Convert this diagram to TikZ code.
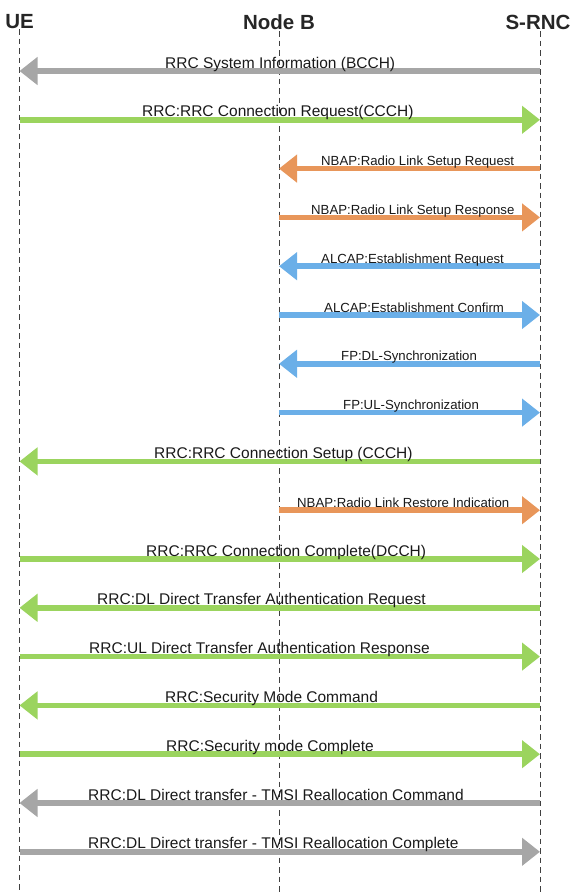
\documentclass[tikz,border=0pt]{standalone}
\usepackage{fontspec}
\setmainfont{Liberation Sans}
\usetikzlibrary{arrows.meta}
\definecolor{cgray}{HTML}{A6A6A6}
\definecolor{cgreen}{HTML}{9BD45E}
\definecolor{corange}{HTML}{E8965A}
\definecolor{cblue}{HTML}{6BAFE8}
\begin{document}
\begin{tikzpicture}[x=1pt,y=-1pt,
 msg/.style={line width=5.5pt,-{Triangle[length=18pt,width=27pt]}},
 lbl/.style={font=\fontsize{15.5}{16}\selectfont, anchor=base west, inner sep=0pt, text=black!90},
 slbl/.style={font=\fontsize{13.2}{14}\selectfont, anchor=base west, inner sep=0pt, text=black!90},
 hdr/.style={font=\fontsize{20.5}{22}\selectfont\bfseries, inner sep=0pt, text=black!85},
 life/.style={draw=black!75, line width=1pt, dash pattern=on 5.5pt off 4pt}]
\useasboundingbox (0,0) rectangle (573,892);
% lifelines
\coordinate (ue) at (19.5,29);  \coordinate (ueb) at (19.5,892);
\coordinate (nb) at (279,31);   \coordinate (nbb) at (279,892);
\coordinate (srnc) at (540,31); \coordinate (srncb) at (540,892);
\draw[life] (ue) -- (ueb);
\draw[life] (nb) -- (nbb);
\draw[life] (srnc) -- (srncb);
\node[hdr] (hue) at (19.5,22) {UE};
\node[hdr] (hnb) at (279,22) {Node B};
\node[hdr] (hsrnc) at (538,22) {S-RNC};
% message rows
\coordinate (m1) at (0,71);
\coordinate (m2) at (0,119.8);
\coordinate (m3) at (0,168.6);
\coordinate (m4) at (0,217.4);
\coordinate (m5) at (0,266.2);
\coordinate (m6) at (0,315);
\coordinate (m7) at (0,363.8);
\coordinate (m8) at (0,412.6);
\coordinate (m9) at (0,461.4);
\coordinate (m10) at (0,510.2);
\coordinate (m11) at (0,559);
\coordinate (m12) at (0,607.8);
\coordinate (m13) at (0,656.6);
\coordinate (m14) at (0,705.4);
\coordinate (m15) at (0,754.2);
\coordinate (m16) at (0,803);
\coordinate (m17) at (0,851.8);
% arrows
\draw[msg,cgray]   (srnc |- m1) -- (ue |- m1);
\draw[msg,cgreen]  (ue |- m2) -- (srnc |- m2);
\draw[msg,corange] (srnc |- m3) -- (nb |- m3);
\draw[msg,corange] (nb |- m4) -- (srnc |- m4);
\draw[msg,cblue]   (srnc |- m5) -- (nb |- m5);
\draw[msg,cblue]   (nb |- m6) -- (srnc |- m6);
\draw[msg,cblue]   (srnc |- m7) -- (nb |- m7);
\draw[msg,cblue]   (nb |- m8) -- (srnc |- m8);
\draw[msg,cgreen]  (srnc |- m9) -- (ue |- m9);
\draw[msg,corange] (nb |- m10) -- (srnc |- m10);
\draw[msg,cgreen]  (ue |- m11) -- (srnc |- m11);
\draw[msg,cgreen]  (srnc |- m12) -- (ue |- m12);
\draw[msg,cgreen]  (ue |- m13) -- (srnc |- m13);
\draw[msg,cgreen]  (srnc |- m14) -- (ue |- m14);
\draw[msg,cgreen]  (ue |- m15) -- (srnc |- m15);
\draw[msg,cgray]   (srnc |- m16) -- (ue |- m16);
\draw[msg,cgray]   (ue |- m17) -- (srnc |- m17);
% labels
\node[lbl]  (l1)  at (165,68)    {RRC System Information (BCCH)};
\node[lbl]  (l2)  at (142,116.8) {RRC:RRC Connection Request(CCCH)};
\node[slbl] (l3)  at (321,165.6) {NBAP:Radio Link Setup Request};
\node[slbl] (l4)  at (311,214.4) {NBAP:Radio Link Setup Response};
\node[slbl] (l5)  at (321,263.2) {ALCAP:Establishment Request};
\node[slbl] (l6)  at (324,312)   {ALCAP:Establishment Confirm};
\node[slbl] (l7)  at (341,360.8) {FP:DL-Synchronization};
\node[slbl] (l8)  at (343,409.6) {FP:UL-Synchronization};
\node[lbl]  (l9)  at (154,458.4) {RRC:RRC Connection Setup (CCCH)};
\node[slbl] (l10) at (297,507.2) {NBAP:Radio Link Restore Indication};
\node[lbl]  (l11) at (146,556)   {RRC:RRC Connection Complete(DCCH)};
\node[lbl]  (l12) at (97,604.8)  {RRC:DL Direct Transfer Authentication Request};
\node[lbl]  (l13) at (89,653.6)  {RRC:UL Direct Transfer Authentication Response};
\node[lbl]  (l14) at (165,702.4) {RRC:Security Mode Command};
\node[lbl]  (l15) at (166,751.2) {RRC:Security mode Complete};
\node[lbl]  (l16) at (88,800)    {RRC:DL Direct transfer - TMSI Reallocation Command};
\node[lbl]  (l17) at (88,848.8)  {RRC:DL Direct transfer - TMSI Reallocation Complete};
\end{tikzpicture}
\end{document}
